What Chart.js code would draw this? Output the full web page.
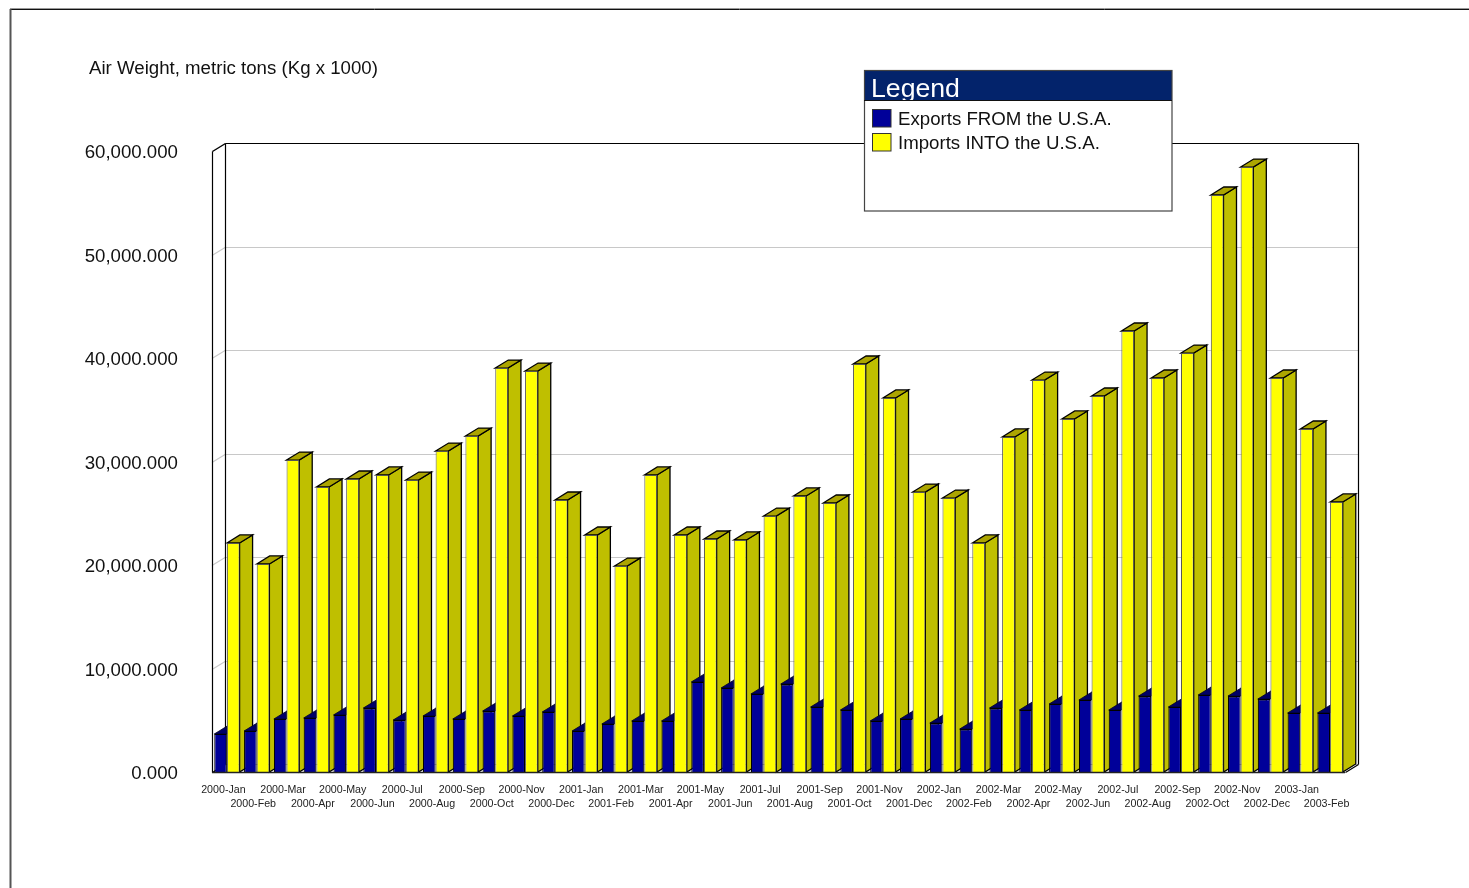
<!DOCTYPE html>
<html>
<head>
<meta charset="utf-8">
<script src="https://cdn.jsdelivr.net/npm/chart.js@4/dist/chart.umd.min.js"></script>
<style>html,body{margin:0;padding:0;background:#fff}canvas{display:block}</style>
</head>
<body>
<canvas id="c" width="1469" height="888"></canvas>
<script>
const categories = [
 "2000-Jan","2000-Feb","2000-Mar","2000-Apr","2000-May","2000-Jun","2000-Jul","2000-Aug","2000-Sep","2000-Oct","2000-Nov","2000-Dec",
 "2001-Jan","2001-Feb","2001-Mar","2001-Apr","2001-May","2001-Jun","2001-Jul","2001-Aug","2001-Sep","2001-Oct","2001-Nov","2001-Dec",
 "2002-Jan","2002-Feb","2002-Mar","2002-Apr","2002-May","2002-Jun","2002-Jul","2002-Aug","2002-Sep","2002-Oct","2002-Nov","2002-Dec",
 "2003-Jan","2003-Feb"];
const exportsFrom = [
 3670,3960,5120,5220,5510,6180,5020,5410,5120,5890,5410,5800,
 3960,4640,4930,4930,8700,8120,7540,8500,6280,5990,4930,5120,
 4730,4150,6180,5990,6570,6960,5990,7340,6280,7440,7340,7050,
 5700,5700];
const importsInto = [
 22130,20100,30140,27540,28310,28700,28210,31010,32460,39030,38740,26280,
 22900,19900,28700,22900,22510,22420,24730,26670,25990,39420,36140,27050,
 26470,22130,32370,37870,34110,36330,42610,38070,40480,55750,58450,38070,
 33140,26090];
const yTickValues = [0,10000,20000,30000,40000,50000,60000];
const seriesNames = ["Exports FROM the U.S.A.","Imports INTO the U.S.A."];
const titleText = "Air Weight, metric tons (Kg x 1000)";
const legendTitle = "Legend";

const FONT = '"Liberation Sans", Arial, sans-serif';
const DX = 13, DY = 8;

function poly(ctx, pts, fill, stroke){
  ctx.beginPath();
  pts.forEach((p,i)=> i?ctx.lineTo(p[0],p[1]):ctx.moveTo(p[0],p[1]));
  ctx.closePath();
  if(fill){ctx.fillStyle=fill;ctx.fill();}
  if(stroke){ctx.strokeStyle=stroke;ctx.stroke();}
}
function line(ctx,x1,y1,x2,y2,color,w){
  ctx.beginPath();ctx.moveTo(x1,y1);ctx.lineTo(x2,y2);
  ctx.strokeStyle=color;ctx.lineWidth=w||1;ctx.stroke();
}

const scene3d = {
  id:"scene3d",
  afterLayout(chart){ chart.scales.y.left = 60; },
  beforeDraw(chart){
    const ctx=chart.ctx;
    ctx.save();
    line(ctx,10,8.5,1469,8.5,"#999",1);
    line(ctx,10,9.5,1469,9.5,"#111",1);
    line(ctx,10.5,9,10.5,888,"#555",2);
    ctx.restore();
  },
  beforeDatasetsDraw(chart){
    const ctx=chart.ctx, a=chart.chartArea, ys=chart.scales.y;
    ctx.save();
    yTickValues.forEach(v=>{
      const y=Math.round(ys.getPixelForValue(v))+0.5;
      ctx.beginPath();ctx.moveTo(a.left,y);ctx.lineTo(a.left+DX,y-DY);ctx.lineTo(a.right+DX,y-DY);
      ctx.strokeStyle="#C8C8C8";ctx.lineWidth=1.2;ctx.stroke();
    });
    const t=Math.round(a.top)+0.5,b=Math.round(a.bottom)+0.5,l=Math.round(a.left)+0.5,r=Math.round(a.right)+0.5;
    const W=1.2;
    line(ctx,l,t,l,b,"#000",W);
    line(ctx,l+DX,t-DY,l+DX,b-DY,"#000",W);
    line(ctx,l,t,l+DX,t-DY,"#000",W);
    line(ctx,l+DX,t-DY,r+DX,t-DY,"#000",W);
    line(ctx,r+DX,t-DY,r+DX,b-DY,"#000",W);
    line(ctx,r,b,r+DX,b-DY,"#000",W);
    line(ctx,l,b,l+DX,b-DY,"#000",W);
    ctx.lineWidth=1.3;
    chart.getDatasetMeta(1).data.forEach(el=>{
      const p=el.getProps(["x","y","width","base"],true);
      const L=p.x-p.width/2,R=p.x+p.width/2,y=p.y,B=p.base;
      poly(ctx,[[R,y],[R+DX,y-DY],[R+DX,B-DY],[R,B]],"#BFBF00","#000");
      poly(ctx,[[L,y],[L+DX,y-DY],[R+DX,y-DY],[R,y]],"#ACA500","#000");
    });
    ctx.lineWidth=0.8;
    chart.getDatasetMeta(0).data.forEach(el=>{
      const p=el.getProps(["x","y","width","base"],true);
      const L=p.x-p.width/2,R=p.x+p.width/2,y=p.y;
      // the part behind the imports bar is hidden, so only the visible top is painted
      poly(ctx,[[L,y],[L+DX,y-DY],[R,y-DY],[R,y]],"#000066","#000022");
    });
    ctx.restore();
  },
  afterDatasetsDraw(chart){
    const ctx=chart.ctx,a=chart.chartArea;
    ctx.save();
    line(ctx,a.left,Math.round(a.bottom)+0.5,a.right,Math.round(a.bottom)+0.5,"#222",1.3);
    ctx.fillStyle="#fff";ctx.fillRect(864,71,308,140);
    ctx.fillStyle="#03236B";ctx.fillRect(864,71,308,29);
    ctx.strokeStyle="#444";ctx.lineWidth=1.2;ctx.strokeRect(864.5,70.5,307.5,140.5);
    line(ctx,864,100.5,1172,100.5,"#111",1);
    ctx.save();
    ctx.beginPath();ctx.rect(864,71,308,29);ctx.clip();
    ctx.font='26.67px '+FONT;ctx.fillStyle="#fff";ctx.textBaseline="alphabetic";ctx.textAlign="left";
    ctx.fillText(legendTitle,871,97);
    ctx.restore();
    const sw=[109.5,133.5];
    chart.data.datasets.forEach((d,i)=>{
      ctx.fillStyle=d.backgroundColor;ctx.fillRect(872.5,sw[i],18.5,17.5);
      ctx.strokeStyle="#333";ctx.lineWidth=1;ctx.strokeRect(872.5,sw[i],18.5,17.5);
      ctx.font='18.67px '+FONT;ctx.fillStyle="#111";ctx.textBaseline="middle";ctx.textAlign="left";
      ctx.fillText(d.label,898,sw[i]+10);
    });
    ctx.restore();
  }
};

new Chart(document.getElementById("c"),{
  type:"bar",
  data:{labels:categories,datasets:[
    {label:seriesNames[0],data:exportsFrom,backgroundColor:"#000099",borderColor:"#000",borderWidth:1.1},
    {label:seriesNames[1],data:importsInto,backgroundColor:"#FFFF00",borderColor:"#555",borderWidth:1}
  ]},
  plugins:[scene3d],
  options:{
    responsive:false,animation:false,
    layout:{padding:{left:89,top:58,right:124,bottom:0}},
    datasets:{bar:{barPercentage:1,categoryPercentage:0.85}},
    plugins:{
      legend:{display:false},tooltip:{enabled:false},
      title:{display:true,text:titleText,align:"start",color:"#111",
        font:{family:FONT,size:18.67,weight:"normal"},padding:{top:0,bottom:70.6}}
    },
    scales:{
      x:{
        grid:{display:false,drawTicks:false},border:{display:false},
        afterFit(s){s.height=116;},
        ticks:{autoSkip:false,maxRotation:0,minRotation:0,padding:11,labelOffset:-3.5,color:"#222",
          font:{family:FONT,size:10.67,lineHeight:1.3},
          callback(v,i){const t=this.getLabelForValue(v);return i%2?["",t]:[t];}}
      },
      y:{
        min:0,max:60000,
        grid:{display:false,drawTicks:false},border:{display:false},
        afterFit(s){s.width=123;},
        afterBuildTicks(s){s.ticks=yTickValues.map(v=>({value:v}));},
        ticks:{padding:34,labelOffset:2,color:"#111",font:{family:FONT,size:18.67},
          callback(v){return v.toLocaleString("en-US",{minimumFractionDigits:3,maximumFractionDigits:3});}}
      }
    }
  }
});
</script>
</body>
</html>
